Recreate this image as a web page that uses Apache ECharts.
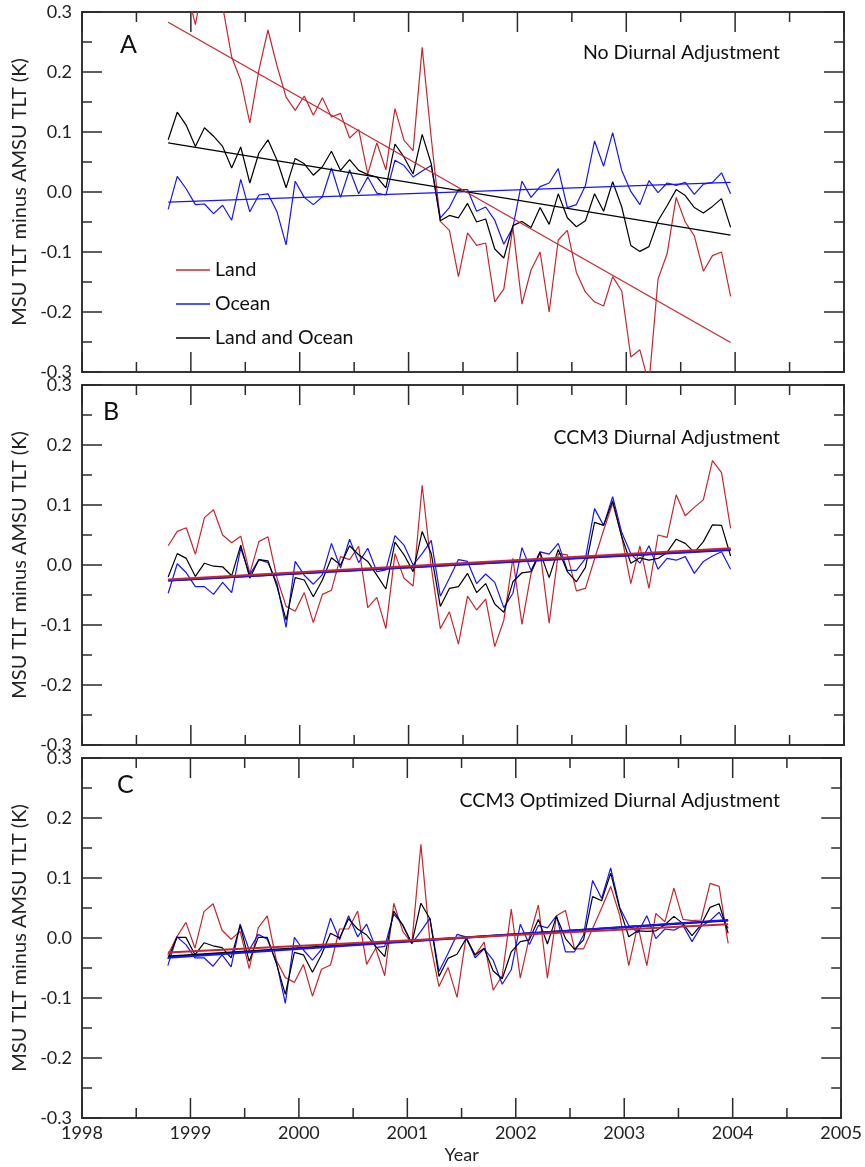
<!DOCTYPE html>
<html>
<head>
<meta charset="UTF-8">
<title>MSU TLT minus AMSU TLT</title>
<script src="https://cdn.jsdelivr.net/npm/echarts@6/dist/echarts.min.js"></script>
</head>
<body style="margin:0;background:#fff">
<div id="main" style="width:865px;height:1167px;"></div>
<script>
// monthly values, first point = Oct 1998, last = Dec 2003
var firstYear = 1998, firstMonth = 10;

// panel A - no diurnal adjustment
var landA = [0.33, 0.36, 0.34, 0.279, 0.36, 0.34, 0.31, 0.225, 0.186, 0.115,
    0.203, 0.27, 0.21, 0.158, 0.136, 0.16, 0.128, 0.157, 0.125, 0.131,
    0.09, 0.104, 0.03, 0.082, 0.037, 0.139, 0.086, 0.069, 0.241, 0.09,
    -0.049, -0.064, -0.141, -0.068, -0.089, -0.085, -0.183, -0.162, -0.059, -0.187,
    -0.13, -0.1, -0.2, -0.08, -0.064, -0.134, -0.167, -0.183, -0.19, -0.141,
    -0.165, -0.275, -0.263, -0.32, -0.145, -0.103, -0.009, -0.05, -0.073, -0.132,
    -0.106, -0.1, -0.174];
var oceanA = [-0.029, 0.026, 0.005, -0.021, -0.02, -0.036, -0.022, -0.047, 0.021, -0.033,
    -0.005, -0.003, -0.033, -0.088, 0.018, -0.009, -0.021, -0.008, 0.04, -0.009,
    0.037, -0.003, 0.025, -0.002, -0.005, 0.053, 0.044, 0.025, 0.035, 0.044,
    -0.043, -0.026, 0.004, 0.004, -0.032, -0.025, -0.047, -0.087, -0.059, 0.018,
    -0.009, 0.009, 0.015, 0.039, -0.026, -0.021, 0.011, 0.085, 0.043, 0.099,
    0.036, 0.001, -0.021, 0.019, -0.001, 0.015, 0.011, 0.016, -0.004, 0.013,
    0.016, 0.032, -0.003];
var bothA = [0.087, 0.133, 0.111, 0.076, 0.107, 0.093, 0.076, 0.04, 0.075, 0.015,
    0.065, 0.087, 0.053, 0.007, 0.056, 0.047, 0.028, 0.042, 0.068, 0.036,
    0.054, 0.036, 0.029, 0.025, 0.007, 0.08, 0.058, 0.03, 0.096, 0.047,
    -0.048, -0.039, -0.043, -0.019, -0.05, -0.045, -0.095, -0.11, -0.056, -0.049,
    -0.059, -0.026, -0.054, -0.003, -0.043, -0.058, -0.048, -0.003, -0.032, 0.017,
    -0.025, -0.089, -0.099, -0.091, -0.048, -0.023, 0.004, -0.006, -0.026, -0.035,
    -0.024, -0.011, -0.059];

// panel B - CCM3 diurnal adjustment
var landB = [0.032, 0.056, 0.062, 0.018, 0.079, 0.092, 0.05, 0.037, 0.048, -0.014,
    0.039, 0.047, -0.022, -0.069, -0.077, -0.046, -0.096, -0.049, -0.042, 0.014,
    0.009, 0.031, -0.071, -0.054, -0.106, 0.019, -0.022, -0.035, 0.133, -0.003,
    -0.106, -0.078, -0.132, -0.052, -0.075, -0.057, -0.136, -0.092, 0.011, -0.099,
    -0.014, 0.022, -0.097, 0.019, 0.017, -0.043, -0.039, 0.01, 0.058, 0.103,
    0.047, -0.031, 0.032, -0.039, 0.05, 0.046, 0.117, 0.082, 0.096, 0.109,
    0.174, 0.154, 0.061];
var oceanB = [-0.047, 0.002, -0.013, -0.036, -0.036, -0.049, -0.029, -0.046, 0.028, -0.016,
    0.009, 0.004, -0.031, -0.104, 0.006, -0.017, -0.032, -0.016, 0.036, -0.005,
    0.043, 0.004, 0.028, -0.011, -0.008, 0.049, 0.033, 0.0, 0.019, 0.041,
    -0.052, -0.022, 0.009, 0.006, -0.031, -0.015, -0.029, -0.071, -0.047, 0.029,
    -0.009, 0.022, 0.018, 0.036, -0.009, -0.009, 0.011, 0.094, 0.066, 0.114,
    0.054, 0.019, 0.003, 0.032, -0.007, 0.011, 0.008, 0.014, -0.014, 0.006,
    0.015, 0.022, -0.007];
var bothB = [-0.02, 0.019, 0.011, -0.019, 0.003, -0.002, -0.003, -0.018, 0.033, -0.022,
    0.009, 0.007, -0.036, -0.092, -0.021, -0.025, -0.053, -0.025, 0.012, 0.0,
    0.032, 0.017, 0.006, -0.017, -0.04, 0.038, 0.017, -0.011, 0.056, 0.019,
    -0.069, -0.039, -0.036, -0.014, -0.046, -0.031, -0.065, -0.079, -0.028, -0.013,
    -0.011, 0.021, -0.021, 0.026, -0.011, -0.028, -0.004, 0.071, 0.066, 0.107,
    0.047, 0.003, 0.012, 0.008, 0.011, 0.021, 0.043, 0.036, 0.021, 0.039,
    0.067, 0.066, 0.015];

// panel C - CCM3 optimized diurnal adjustment
var landC = [-0.028, 0.002, 0.026, -0.017, 0.044, 0.057, 0.013, -0.002, 0.011, -0.051,
    0.017, 0.037, -0.037, -0.066, -0.074, -0.044, -0.097, -0.052, -0.045, 0.015,
    0.015, 0.045, -0.044, -0.017, -0.063, 0.058, 0.011, -0.009, 0.156, -0.006,
    -0.081, -0.049, -0.099, 0.002, -0.029, -0.007, -0.087, -0.063, 0.048, -0.067,
    0.001, 0.055, -0.067, 0.037, 0.046, -0.018, -0.018, 0.016, 0.05, 0.086,
    0.038, -0.046, 0.021, -0.046, 0.041, 0.027, 0.083, 0.031, 0.029, 0.03,
    0.091, 0.086, -0.009];
var oceanC = [-0.046, 0.002, -0.011, -0.033, -0.033, -0.047, -0.028, -0.048, 0.023, -0.02,
    0.006, -0.002, -0.039, -0.109, 0.001, -0.02, -0.037, -0.019, 0.033, -0.003,
    0.037, 0.002, 0.023, -0.016, -0.014, 0.04, 0.022, -0.009, 0.011, 0.033,
    -0.056, -0.026, 0.006, 0.002, -0.033, -0.018, -0.037, -0.077, -0.053, 0.023,
    -0.011, 0.021, 0.017, 0.037, -0.023, -0.023, 0.005, 0.096, 0.066, 0.117,
    0.051, 0.021, 0.009, 0.037, -0.001, 0.015, 0.013, 0.021, -0.006, 0.019,
    0.029, 0.043, 0.016];
var bothC = [-0.035, 0.001, 0.001, -0.028, -0.008, -0.013, -0.016, -0.033, 0.021, -0.039,
    0.001, 0.001, -0.042, -0.094, -0.024, -0.028, -0.057, -0.028, 0.008, 0.0,
    0.032, 0.015, 0.005, -0.014, -0.031, 0.045, 0.021, -0.009, 0.058, 0.032,
    -0.064, -0.034, -0.027, -0.001, -0.028, -0.017, -0.055, -0.068, -0.023, -0.006,
    -0.003, 0.031, -0.01, 0.036, -0.001, -0.019, -0.003, 0.069, 0.062, 0.108,
    0.049, 0.002, 0.012, 0.011, 0.012, 0.022, 0.036, 0.024, 0.004, 0.022,
    0.051, 0.057, 0.008];

// linear trend lines: value at first month, value at last month
var trendLandA = [0.283, -0.251], trendOceanA = [-0.017, 0.016], trendBothA = [0.082, -0.072];
var trendLandB = [-0.024, 0.028], trendOceanB = [-0.026, 0.025], trendBothB = [-0.026, 0.026];
var trendLandC = [-0.024, 0.023], trendOceanC = [-0.033, 0.030], trendBothC = [-0.031, 0.029];

var panelLetters = ['A', 'B', 'C'];
var panelTitles = ['No Diurnal Adjustment', 'CCM3 Diurnal Adjustment', 'CCM3 Optimized Diurnal Adjustment'];
var seriesNames = ['Land', 'Ocean', 'Land and Ocean'];
var yearTicks = [1998, 1999, 2000, 2001, 2002, 2003, 2004, 2005];
// tick marks (major + minor) drawn on all four sides of each panel
var xTickVals = [1998, 1998.5, 1999, 1999.5, 2000, 2000.5, 2001, 2001.5,
    2002, 2002.5, 2003, 2003.5, 2004, 2004.5, 2005];
var yTickVals = [-0.3, -0.25, -0.2, -0.15, -0.1, -0.05, 0, 0.05, 0.1, 0.15, 0.2, 0.25, 0.3];

var RED = '#c8262c', BLUE = '#1414ff', BLACK = '#000000';
var FONT = 'Lato';
var axisColor = '#2a2a2a';

var X0 = 1998, X1 = 2005, Y0 = -0.3, Y1 = 0.3;
var plotW = 865 - 82 - 21, plotH = 360;
// tick lengths (20 px major, 10 px minor) in axis units
var xUnitPx = (X1 - X0) / plotW, yUnitPx = (Y1 - Y0) / plotH;

function monthTime(i) {
    return firstYear + (firstMonth - 1 + i + 0.5) / 12;
}
function pairs(vals) {
    return vals.map(function (v, i) { return [monthTime(i), v]; });
}
function trendPairs(tr, n) {
    return [[monthTime(0), tr[0]], [monthTime(n - 1), tr[1]]];
}
function isMajor(v, step) {
    return Math.abs(v / step - Math.round(v / step)) < 1e-6;
}
// comb path running along one frame side, with a spike at every tick
function combX(base, dir) {
    var pts = [];
    xTickVals.forEach(function (v) {
        var len = (isMajor(v, 1) ? 20 : 10) * yUnitPx * dir;
        pts.push([v, base], [v, base + len], [v, base]);
    });
    return pts;
}
function combY(base, dir) {
    var pts = [];
    yTickVals.forEach(function (v) {
        var len = (isMajor(v, 0.1) ? 20 : 10) * xUnitPx * dir;
        pts.push([base, v], [base + len, v], [base, v]);
    });
    return pts;
}

var panels = [
    { land: landA, ocean: oceanA, both: bothA, tl: trendLandA, to: trendOceanA, tb: trendBothA, tw: 1.2 },
    { land: landB, ocean: oceanB, both: bothB, tl: trendLandB, to: trendOceanB, tb: trendBothB, tw: 2 },
    { land: landC, ocean: oceanC, both: bothC, tl: trendLandC, to: trendOceanC, tb: trendBothC, tw: 2 }
];
var tops = [12, 385, 758];
// letter / subtitle placement inside each panel
var letterPos = [[120, 20], [103, 14], [117, 14]];
var titleTop = [31, 43, 33];

var grids = [], xAxes = [], yAxes = [], series = [], graphics = [];
panels.forEach(function (p, g) {
    grids.push({ left: 82, right: 21, top: tops[g], height: plotH });
    var last = (g === 2);
    ['bottom', 'top'].forEach(function (pos) {
        xAxes.push({
            type: 'value', gridIndex: g, position: pos,
            min: X0, max: X1, interval: 1,
            name: (last && pos === 'bottom') ? 'Year' : '',
            nameLocation: 'middle', nameGap: 28,
            nameTextStyle: { fontFamily: FONT, fontSize: 18, color: '#222' },
            axisLine: { show: true, onZero: false, lineStyle: { color: axisColor, width: 1.5 } },
            axisTick: { show: false },
            splitLine: { show: false },
            axisLabel: {
                show: last && pos === 'bottom', fontFamily: FONT, fontSize: 18, color: '#222', margin: 6,
                formatter: function (v) { return yearTicks.indexOf(v) >= 0 ? String(v) : ''; }
            }
        });
    });
    ['left', 'right'].forEach(function (pos) {
        yAxes.push({
            type: 'value', gridIndex: g, position: pos,
            min: Y0, max: Y1, interval: 0.1,
            name: pos === 'left' ? 'MSU TLT minus AMSU TLT (K)' : '',
            nameLocation: 'middle', nameRotate: 90, nameGap: 48,
            nameTextStyle: { fontFamily: FONT, fontSize: 20, color: '#222' },
            axisLine: { show: true, onZero: false, lineStyle: { color: axisColor, width: 1.5 } },
            axisTick: { show: false },
            splitLine: { show: false },
            axisLabel: {
                show: pos === 'left', fontFamily: FONT, fontSize: 18, color: '#222', margin: 10,
                formatter: function (v) { return v.toFixed(1); }
            }
        });
    });

    var xi = 2 * g, yi = 2 * g;
    function line(name, data, color, w, z) {
        series.push({
            name: name, type: 'line', xAxisIndex: xi, yAxisIndex: yi,
            data: data, showSymbol: false, symbol: 'none', clip: true, z: z,
            lineStyle: { color: color, width: w }, itemStyle: { color: color }
        });
    }
    // frame ticks
    [combX(Y0, 1), combX(Y1, -1), combY(X0, 1), combY(X1, -1)].forEach(function (pts) {
        series.push({
            name: 'ticks', type: 'line', xAxisIndex: xi, yAxisIndex: yi,
            data: pts, showSymbol: false, symbol: 'none', clip: false, z: 1, silent: true,
            lineStyle: { color: axisColor, width: 1.5, join: 'miter' }
        });
    });
    var n = p.land.length;
    line('Land', pairs(p.land), RED, 1.2, 2);
    line('Ocean', pairs(p.ocean), BLUE, 1.2, 2);
    line('Land and Ocean', pairs(p.both), BLACK, 1.2, 2);
    line('Land and Ocean trend', trendPairs(p.tb, n), BLACK, p.tw, 3);
    line('Ocean trend', trendPairs(p.to, n), BLUE, p.tw, 3);
    line('Land trend', trendPairs(p.tl, n), RED, p.tw, 3);

    graphics.push({
        type: 'text', left: letterPos[g][0], top: tops[g] + letterPos[g][1],
        style: { text: panelLetters[g], fontFamily: FONT, fontSize: 25, fill: '#111' }
    });
    graphics.push({
        type: 'text', right: 85, top: tops[g] + titleTop[g],
        style: { text: panelTitles[g], fontFamily: FONT, fontSize: 19.5, fill: '#111' }
    });
});

var myChart = echarts.init(document.getElementById('main'));
myChart.setOption({
    animation: false,
    backgroundColor: '#fff',
    grid: grids,
    xAxis: xAxes,
    yAxis: yAxes,
    legend: {
        data: seriesNames,
        orient: 'vertical', left: 171, top: 253,
        icon: 'rect', itemWidth: 34, itemHeight: 1.5, itemGap: 10,
        textStyle: { fontFamily: FONT, fontSize: 19.5, color: '#111', lineHeight: 24 },
        selectedMode: false
    },
    graphic: graphics,
    series: series
});
</script>
</body>
</html>
